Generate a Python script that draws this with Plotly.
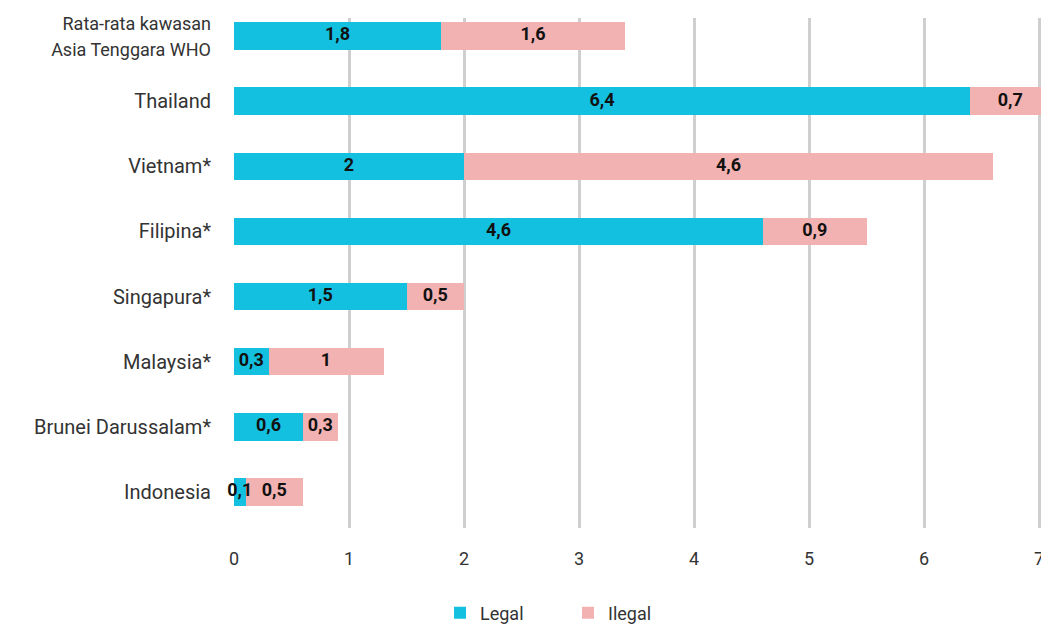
import plotly.graph_objects as go

categories = ["Rata-rata kawasan<br>Asia Tenggara WHO", "Thailand", "Vietnam*", "Filipina*",
              "Singapura*", "Malaysia*", "Brunei Darussalam*", "Indonesia"]
legal = [1.8, 6.4, 2.0, 4.6, 1.5, 0.3, 0.6, 0.1]
ilegal = [1.6, 0.7, 4.6, 0.9, 0.5, 1.0, 0.3, 0.5]
x_ticks = [0, 1, 2, 3, 4, 5, 6, 7]

LEGAL_COLOR = "#14C0E0"
ILEGAL_COLOR = "#F3B2B2"


def fmt(v):
    s = ("%.1f" % v).rstrip("0").rstrip(".")
    return s.replace(".", ",")


tick_text = [("<span style='font-size:18px'>%s</span>" % c) if "<br>" in c else c for c in categories]

# label positions: midpoints of each stacked segment (derived from the data)
legal_mid = [l / 2 for l in legal]
ilegal_mid = [l + i / 2 for l, i in zip(legal, ilegal)]

label_font = dict(family="Roboto", size=18, color="#111111", weight="bold")

fig = go.Figure()
fig.add_trace(go.Bar(
    y=categories, x=legal, orientation="h", name="Legal",
    marker=dict(color=LEGAL_COLOR, line=dict(width=0)),
    width=0.42, hoverinfo="x+y",
))
fig.add_trace(go.Bar(
    y=categories, x=ilegal, orientation="h", name="Ilegal",
    marker=dict(color=ILEGAL_COLOR, line=dict(width=0)),
    width=0.42, hoverinfo="x+y",
))
fig.add_trace(go.Scatter(
    y=categories, x=legal_mid, mode="text", text=[fmt(v) for v in legal],
    textposition="middle center", textfont=label_font, showlegend=False,
    cliponaxis=False, hoverinfo="skip",
))
fig.add_trace(go.Scatter(
    y=categories, x=ilegal_mid, mode="text", text=[fmt(v) for v in ilegal],
    textposition="middle center", textfont=label_font, showlegend=False,
    cliponaxis=False, hoverinfo="skip",
))

fig.update_layout(
    width=1041, height=620,
    barmode="stack",
    plot_bgcolor="white", paper_bgcolor="white",
    margin=dict(l=226, r=0, t=10, b=100, autoexpand=False),
    font=dict(family="Roboto", size=20, color="#333333"),
    showlegend=True,
    legend=dict(orientation="h", xref="container", x=0.415, xanchor="left",
                yref="container", y=0.024, yanchor="middle",
                font=dict(size=18, color="#333333"), itemwidth=30,
                entrywidth=83, entrywidthmode="pixels", traceorder="normal"),
    xaxis=dict(range=[0, 7.087], tickvals=x_ticks, ticktext=[str(t) for t in x_ticks],
               showgrid=True, gridcolor="#CFCFCF", gridwidth=3, zeroline=False, automargin=False,
               ticks="", ticklabelstandoff=18, showline=False, tickfont=dict(size=18)),
    yaxis=dict(categoryorder="array", categoryarray=categories, range=[7.553, -0.276],
               tickvals=categories, ticktext=tick_text, automargin=False,
               showgrid=False, zeroline=False, ticks="", ticklabelstandoff=22, showline=False),
)

fig.write_html("out.html")
